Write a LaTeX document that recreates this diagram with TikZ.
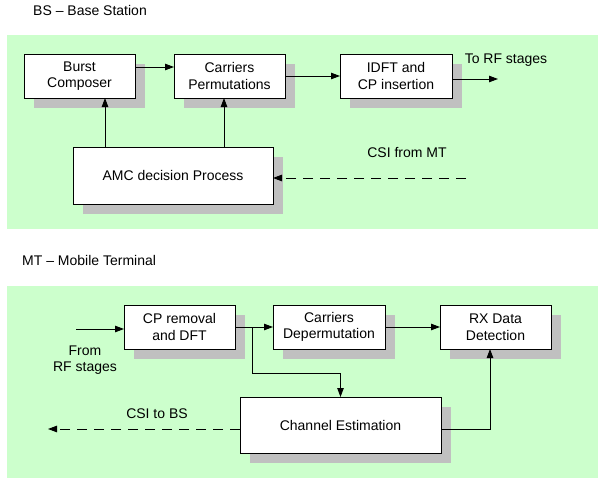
\documentclass[tikz,border=0pt]{standalone}
\usepackage{fontspec}
\setmainfont{Liberation Sans}
\usetikzlibrary{shadows,arrows.meta}
\definecolor{panelgreen}{RGB}{204,255,204}
\definecolor{shadowgray}{RGB}{192,192,192}
\begin{document}
\begin{tikzpicture}[x=1pt,y=-1pt,
  font=\fontsize{14}{16.7}\selectfont,
  blockbox/.style={draw=black,line width=0.9pt,fill=white,inner sep=0pt,outer sep=0pt,
    align=center,
    drop shadow={shadow xshift=10pt,shadow yshift=-10pt,fill=shadowgray,opacity=1}},
  arr/.style={line width=0.9pt,-{Triangle[length=9pt,width=6.5pt]}},
  dasharr/.style={arr,dash pattern=on 10pt off 7pt},
  lbl/.style={inner sep=0pt,align=center}]
\useasboundingbox (0,0) rectangle (598,479);
% panels
\fill[panelgreen] (7,35) rectangle (598,229);
\fill[panelgreen] (7,286) rectangle (598,478);
% titles
\node[lbl,anchor=west] (bstitle) at (33,10) {BS -- Base Station};
\node[lbl,anchor=west] (mttitle) at (22,260) {MT -- Mobile Terminal};
% BS blocks
\node[blockbox,minimum width=111pt,minimum height=44pt] (burst) at (79.5,76) {Burst\\Composer};
\node[blockbox,minimum width=111pt,minimum height=44pt] (carr) at (229.5,76) {Carriers\\Permutations};
\node[blockbox,minimum width=112pt,minimum height=44pt] (idft) at (396,76) {IDFT and\\CP insertion};
\node[blockbox,minimum width=200pt,minimum height=57pt] (amc) at (173,175.5) {AMC decision Process};
\coordinate (torf) at (498,79);
\coordinate (csifrom) at (466,178);
\node[lbl] (torflbl) at (506,60) {To RF stages};
\node[lbl] (csifromlbl) at (407,153) {CSI from MT};
% BS connectors
\draw[arr] ([yshift=9pt]burst.east) -- ([yshift=9pt]carr.west);
\draw[arr] (carr.east) -- (idft.west);
\draw[arr] ([yshift=-3pt]idft.east) -- (torf);
\draw[arr] ([xshift=-68pt]amc.north) -- ([xshift=-68pt]amc.north |- burst.south);
\draw[arr] ([xshift=51pt]amc.north) -- ([xshift=51pt]amc.north |- carr.south);
\draw[dasharr] (csifrom) -- (csifrom -| amc.east);
% MT blocks
\node[blockbox,minimum width=111pt,minimum height=44pt] (cp) at (179.5,327) {CP removal\\and DFT};
\node[blockbox,minimum width=112pt,minimum height=44pt] (dep) at (329,327) {Carriers\\Depermutation};
\node[blockbox,minimum width=111pt,minimum height=44pt] (rx) at (495.5,327) {RX Data\\Detection};
\node[blockbox,minimum width=201pt,minimum height=56pt] (chest) at (340.5,425) {Channel Estimation};
\coordinate (fromrf) at (76,329);
\coordinate (tobs) at (48,429);
\node[lbl] (fromrflbl) at (85,360) {From\\RF stages};
\node[lbl] (csitolbl) at (157,414) {CSI to BS};
% MT connectors
\draw[arr] (fromrf) -- (fromrf -| cp.west);
\draw[arr] (cp.east) -- (dep.west);
\draw[arr] (dep.east) -- (rx.west);
\draw[arr] (cp.east) -- ++(17,0) -- ++(0,46) -| (chest.north);
\draw[arr] ([yshift=-4pt]chest.east) -| ([xshift=-5.5pt]rx.south);
\draw[dasharr] ([yshift=-4pt]chest.west) -- (tobs);
\end{tikzpicture}
\end{document}
